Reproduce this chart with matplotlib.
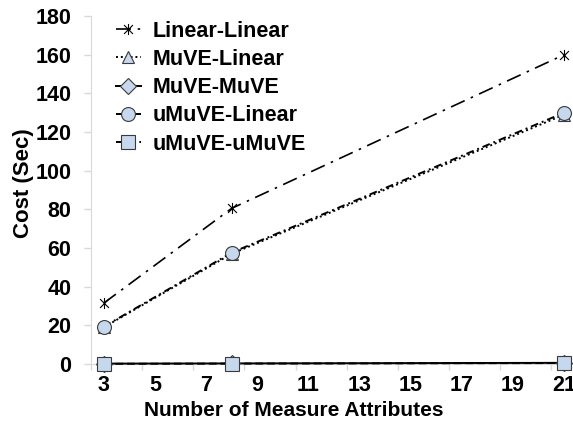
import numpy as np
import matplotlib
matplotlib.use("Agg")
from matplotlib import pyplot as plt
from matplotlib.path import Path

plt.rcParams['font.family'] = ['Liberation Sans', 'DejaVu Sans']
plt.rcParams['font.weight'] = 'bold'

# datos
x = [3, 8, 21]
linear_linear = [31.5, 80.5, 160]
muve_linear = [19, 57, 129]
muve_muve = [0.2, 0.3, 0.6]
umuve_linear = [19.3, 57.6, 130]
umuve_umuve = [0.1, 0.2, 0.5]
xticks = [3, 5, 7, 9, 11, 13, 15, 17, 19, 21]
yticks = [0, 20, 40, 60, 80, 100, 120, 140, 160, 180]

faint = '#d9d9d9'
fill = '#c6d8ee'
edge = '#3a3a3a'

# marcador tipo asterisco de excel
star = Path([(-1, -1), (1, 1), (-1, 1), (1, -1), (0, -1.25), (0, 1.25)],
            [Path.MOVETO, Path.LINETO, Path.MOVETO, Path.LINETO, Path.MOVETO, Path.LINETO])

fig = plt.figure(figsize=(5.73, 4.29), dpi=100)
ax = fig.add_axes([91/573, 1 - 364/429, 486/573, 348/429])

ax.plot(x, linear_linear, color='black', lw=1.2, dashes=(9, 4, 1.5, 4),
        marker=star, ms=8, mec='black', mew=0.8, label='Linear-Linear', clip_on=False, zorder=3)
ax.plot(x, muve_linear, color='black', lw=1.4, dashes=(1, 1.5),
        marker='^', ms=9, mfc=fill, mec=edge, mew=0.8, label='MuVE-Linear', clip_on=False, zorder=3)
ax.plot(x, muve_muve, color='black', lw=1.4, ls='-',
        marker='D', ms=8, mfc=fill, mec=edge, mew=0.8, label='MuVE-MuVE', clip_on=False, zorder=3)
ax.plot(x, umuve_linear, color='black', lw=1.4, dashes=(4, 2, 1, 2),
        marker='o', ms=10, mfc=fill, mec=edge, mew=0.8, label='uMuVE-Linear', clip_on=False, zorder=4)
ax.plot(x, umuve_umuve, color='black', lw=1.4, dashes=(4, 2),
        marker='s', ms=10, mfc=fill, mec=edge, mew=0.8, label='uMuVE-uMuVE', clip_on=False, zorder=4)

ax.set_xlim(2.5, 21.5)
ax.set_ylim(0, 180)
ax.set_xticks(xticks)
ax.set_xticks(np.arange(2.5, 22, 2), minor=True)
ax.set_yticks(yticks)
ax.tick_params(axis='x', which='major', length=0, pad=8, labelsize=15.5)
ax.tick_params(axis='x', which='minor', length=4, color=faint, width=1)
ax.tick_params(axis='y', which='major', length=5, color=faint, width=1, pad=9, labelsize=15.5)
for s in ['top', 'right']:
    ax.spines[s].set_visible(False)
for s in ['left', 'bottom']:
    ax.spines[s].set_color(faint)

ax.set_ylabel('Cost (Sec)', fontsize=16, fontweight='bold')
ax.yaxis.set_label_coords(-0.118, 0.52)
ax.set_xlabel('Number of Measure Attributes', fontsize=15, fontweight='bold')
ax.xaxis.set_label_coords(0.418, -0.105)

leg = ax.legend(loc='upper left', bbox_to_anchor=(0.051, 0.987), frameon=False,
                fontsize=15.5, handlelength=1.16, handletextpad=0.56, labelspacing=0.34,
                borderpad=0, borderaxespad=0)

fig.savefig('out.png', dpi=100)
